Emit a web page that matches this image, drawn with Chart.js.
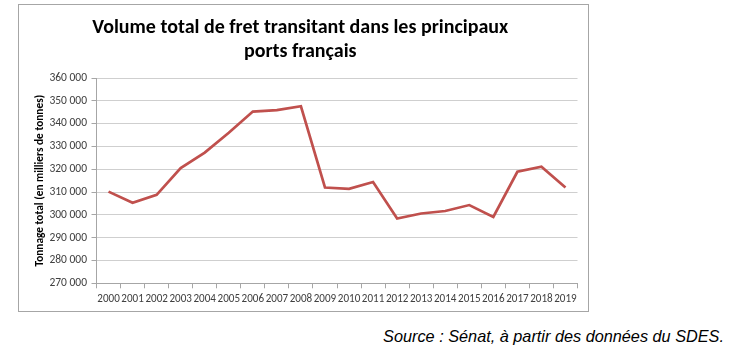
<!DOCTYPE html>
<html><head><meta charset="utf-8">
<script src="https://cdn.jsdelivr.net/npm/chart.js@4"></script>
<style>
html,body{margin:0;padding:0;background:#fff;width:731px;height:353px;overflow:hidden;position:relative}
#frame{position:absolute;left:18px;top:4px;width:571px;height:308px;border:1px solid #a6a6a6;box-sizing:border-box;background:#fff}
#frame canvas{display:block}
#source{position:absolute;right:7px;top:326px;height:20px;line-height:20px;font-family:'Liberation Sans',Arial,sans-serif;font-style:italic;white-space:nowrap;color:#000}
</style></head><body>
<div id="frame"><canvas id="c" width="569" height="306" style="width:569px;height:306px"></canvas></div>
<div id="source">Source : Sénat, à partir des données du SDES.</div>
<script>
// ---- data ----
const categories = ['2000','2001','2002','2003','2004','2005','2006','2007','2008','2009',
                    '2010','2011','2012','2013','2014','2015','2016','2017','2018','2019'];
const tonnage = [310200, 305300, 308800, 320500, 327300, 336000, 345300, 345900, 347600, 312000,
                 311400, 314400, 298400, 300600, 301700, 304300, 299100, 318900, 321100, 312000];
const yTickValues = [270000, 280000, 290000, 300000, 310000, 320000, 330000, 340000, 350000, 360000];
const titleLines = ['Volume total de fret transitant dans les principaux', 'ports français'];
const yAxisTitle = 'Tonnage total (en milliers de tonnes)';

// ---- styling helpers ----
const narrow = "Carlito, 'Liberation Sans Narrow', 'DejaVu Sans Condensed', 'Open Sans', sans-serif";
function fitSize(text, weight, style, family, target) {
  const ctx = document.createElement('canvas').getContext('2d');
  ctx.font = `${style} ${weight} 100px ${family}`;
  return 100 * target / ctx.measureText(text).width;
}
const fmt = v => String(v).replace(/\B(?=(\d{3})+(?!\d))/g, ' ');

const titleSize = Math.min(20, fitSize(titleLines[0], 'bold', 'normal', narrow, 423));
const yTitleSize = Math.min(11.5, fitSize(yAxisTitle, 'bold', 'normal', narrow, 172));
const yTickSize = Math.min(11.5, fitSize('360 000', 'normal', 'normal', narrow, 38));
const xTickSize = Math.min(11.5, fitSize('2000', 'normal', 'normal', narrow, 22.5));
const srcSize = fitSize('Source : Sénat, à partir des données du SDES.', 'normal', 'italic', "'Liberation Sans', Arial, sans-serif", 341);
document.getElementById('source').style.fontSize = srcSize + 'px';

// layout targets (canvas coords)
const areaLeft = 77.5;
const padLeft = 4;
const yTitleLH = yTitleSize * 1.2;
const yTitlePadTop = 21 - padLeft - yTitleLH / 2;

new Chart(document.getElementById('c'), {
  type: 'line',
  data: {
    labels: categories,
    datasets: [{
      data: tonnage,
      borderColor: '#c0504d',
      backgroundColor: '#c0504d',
      borderWidth: 2.7,
      tension: 0,
      pointRadius: 0,
      fill: false
    }]
  },
  options: {
    responsive: false,
    animation: false,
    devicePixelRatio: 1,
    layout: { padding: { left: padLeft, right: 10.5, top: 6, bottom: 0 } },
    plugins: {
      legend: { display: false },
      tooltip: { enabled: false },
      title: {
        display: true,
        text: titleLines,
        color: '#000',
        font: { family: narrow, size: titleSize, weight: 'bold', lineHeight: '24px' },
        padding: { top: 4.5, bottom: 14.5 }
      }
    },
    scales: {
      x: {
        type: 'category',
        offset: true,
        grid: { display: true, offset: true, drawOnChartArea: false, drawTicks: true, tickLength: 5, color: '#a6a6a6' },
        border: { display: true, color: '#a6a6a6', width: 1 },
        ticks: { autoSkip: false, maxRotation: 0, minRotation: 0, padding: 4.1, color: '#404040',
                 font: { family: narrow, size: xTickSize } },
        afterFit: s => { s.height = 27.7; }
      },
      y: {
        min: yTickValues[0],
        max: yTickValues[yTickValues.length - 1],
        afterBuildTicks: s => { s.ticks = yTickValues.map(v => ({ value: v })); },
        grid: { color: '#cfcfcf', tickColor: '#a6a6a6', tickLength: 5, lineWidth: 1 },
        border: { display: true, color: '#a6a6a6', width: 1 },
        ticks: { padding: 4.5, color: '#404040', font: { family: narrow, size: yTickSize },
                 callback: v => fmt(v) },
        title: { display: true, text: yAxisTitle, color: '#000',
                 font: { family: narrow, size: yTitleSize, weight: 'bold', lineHeight: 1.2 },
                 padding: { top: yTitlePadTop, bottom: 0 } },
        afterFit: s => { s.width = areaLeft - padLeft; }
      }
    }
  }
});
</script>
</body></html>
